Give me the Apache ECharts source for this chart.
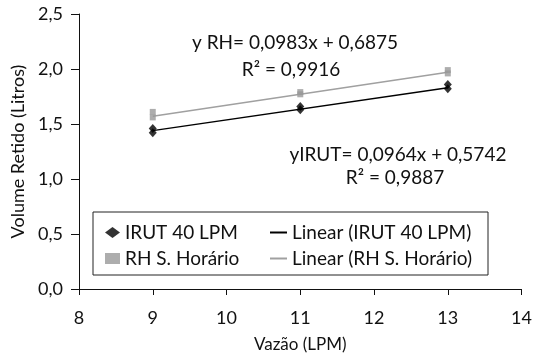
<!DOCTYPE html>
<html>
<head>
<meta charset="utf-8">
<script src="https://cdn.jsdelivr.net/npm/echarts@6/dist/echarts.min.js"></script>
<style>
	html, body { margin: 0; padding: 0; background: #fff; }
	#chart { width: 535px; height: 358px; }
</style>
</head>
<body>
<div id="chart"></div>
<script>
// values
var pointX = [9, 9, 11, 11, 13, 13];
var irutVals = [1.42, 1.46, 1.63, 1.66, 1.82, 1.86];
var rhVals = [1.56, 1.61, 1.77, 1.79, 1.96, 1.99];
var trendX = [9, 13];
var trendIrut = [1.44, 1.83];
var trendRh = [1.57, 1.97];
var seriesNames = ['IRUT 40 LPM', 'RH S. Horário', 'Linear (IRUT 40 LPM)', 'Linear (RH S. Horário)'];
var eqRh = ['y RH= 0,0983x + 0,6875', 'R² = 0,9916'];
var eqIrut = ['yIRUT= 0,0964x + 0,5742', 'R² = 0,9887'];

function pairs(xs, ys) {
	return xs.map(function (x, i) { return [x, ys[i]]; });
}

var font = 'Lato, "DejaVu Sans", sans-serif';
var eqFont = '19px ' + font;
var myChart = echarts.init(document.getElementById('chart'));
var option = {
	animation: false,
	textStyle: { fontFamily: font },
	grid: { left: 79, right: 8, top: 14, bottom: 64 },
	legend: [
		{
			orient: 'vertical',
			left: 100, top: 218,
			itemWidth: 15, itemHeight: 11, itemGap: 7,
			textStyle: { fontSize: 19, color: '#111', fontFamily: font },
			data: [
				{ name: seriesNames[0], icon: 'diamond' },
				{ name: seriesNames[1], icon: 'rect' }
			]
		},
		{
			orient: 'vertical',
			left: 265, top: 218,
			itemWidth: 17, itemHeight: 2, itemGap: 7,
			textStyle: { fontSize: 19, color: '#111', fontFamily: font },
			data: [
				{ name: seriesNames[2], icon: 'rect' },
				{ name: seriesNames[3], icon: 'rect' }
			]
		}
	],
	graphic: [
		{ type: 'rect', shape: { x: 93, y: 212, width: 395, height: 63 }, style: { fill: 'none', stroke: '#222', lineWidth: 1 }, z: 1 },
		{ type: 'text', x: 295, y: 43, style: { text: eqRh[0], font: eqFont, fill: '#111', textAlign: 'center', textVerticalAlign: 'middle' } },
		{ type: 'text', x: 291, y: 70, style: { text: eqRh[1], font: eqFont, fill: '#111', textAlign: 'center', textVerticalAlign: 'middle' } },
		{ type: 'text', x: 398, y: 155, style: { text: eqIrut[0], font: eqFont, fill: '#111', textAlign: 'center', textVerticalAlign: 'middle' } },
		{ type: 'text', x: 395, y: 178, style: { text: eqIrut[1], font: eqFont, fill: '#111', textAlign: 'center', textVerticalAlign: 'middle' } }
	],
	xAxis: {
		type: 'value',
		min: 8, max: 14, interval: 1,
		name: 'Vazão (LPM)',
		nameLocation: 'middle',
		nameGap: 47,
		nameTextStyle: { fontSize: 17, color: '#111' },
		axisLine: { lineStyle: { color: '#111', width: 1 } },
		axisTick: { length: 6, lineStyle: { color: '#111' } },
		axisLabel: { fontSize: 18, color: '#111', margin: 20 },
		splitLine: { show: false }
	},
	yAxis: {
		type: 'value',
		min: 0, max: 2.5, interval: 0.5,
		name: 'Volume Retido (Litros)',
		nameLocation: 'middle',
		nameGap: 49,
		nameTextStyle: { fontSize: 18, color: '#111' },
		axisLine: { show: true, lineStyle: { color: '#111', width: 1 } },
		axisTick: { show: true, length: 8, lineStyle: { color: '#111' } },
		axisLabel: {
			fontSize: 18, color: '#111', margin: 16,
			formatter: function (v) { return v.toFixed(1).replace('.', ','); }
		},
		splitLine: { show: false }
	},
	series: [
		{
			name: seriesNames[0], type: 'scatter',
			symbol: 'diamond', symbolSize: [8, 9],
			itemStyle: { color: '#000' },
			z: 5,
			data: pairs(pointX, irutVals)
		},
		{
			name: seriesNames[1], type: 'scatter',
			symbol: 'rect', symbolSize: 6,
			itemStyle: { color: '#999' },
			z: 5,
			data: pairs(pointX, rhVals)
		},
		{
			name: seriesNames[2], type: 'line',
			symbol: 'none',
			lineStyle: { color: '#000', width: 1.4 },
			itemStyle: { color: '#000' },
			data: pairs(trendX, trendIrut)
		},
		{
			name: seriesNames[3], type: 'line',
			symbol: 'none',
			lineStyle: { color: '#a0a0a0', width: 1.4 },
			itemStyle: { color: '#a0a0a0' },
			data: pairs(trendX, trendRh)
		}
	]
};
myChart.setOption(option);
</script>
</body>
</html>
